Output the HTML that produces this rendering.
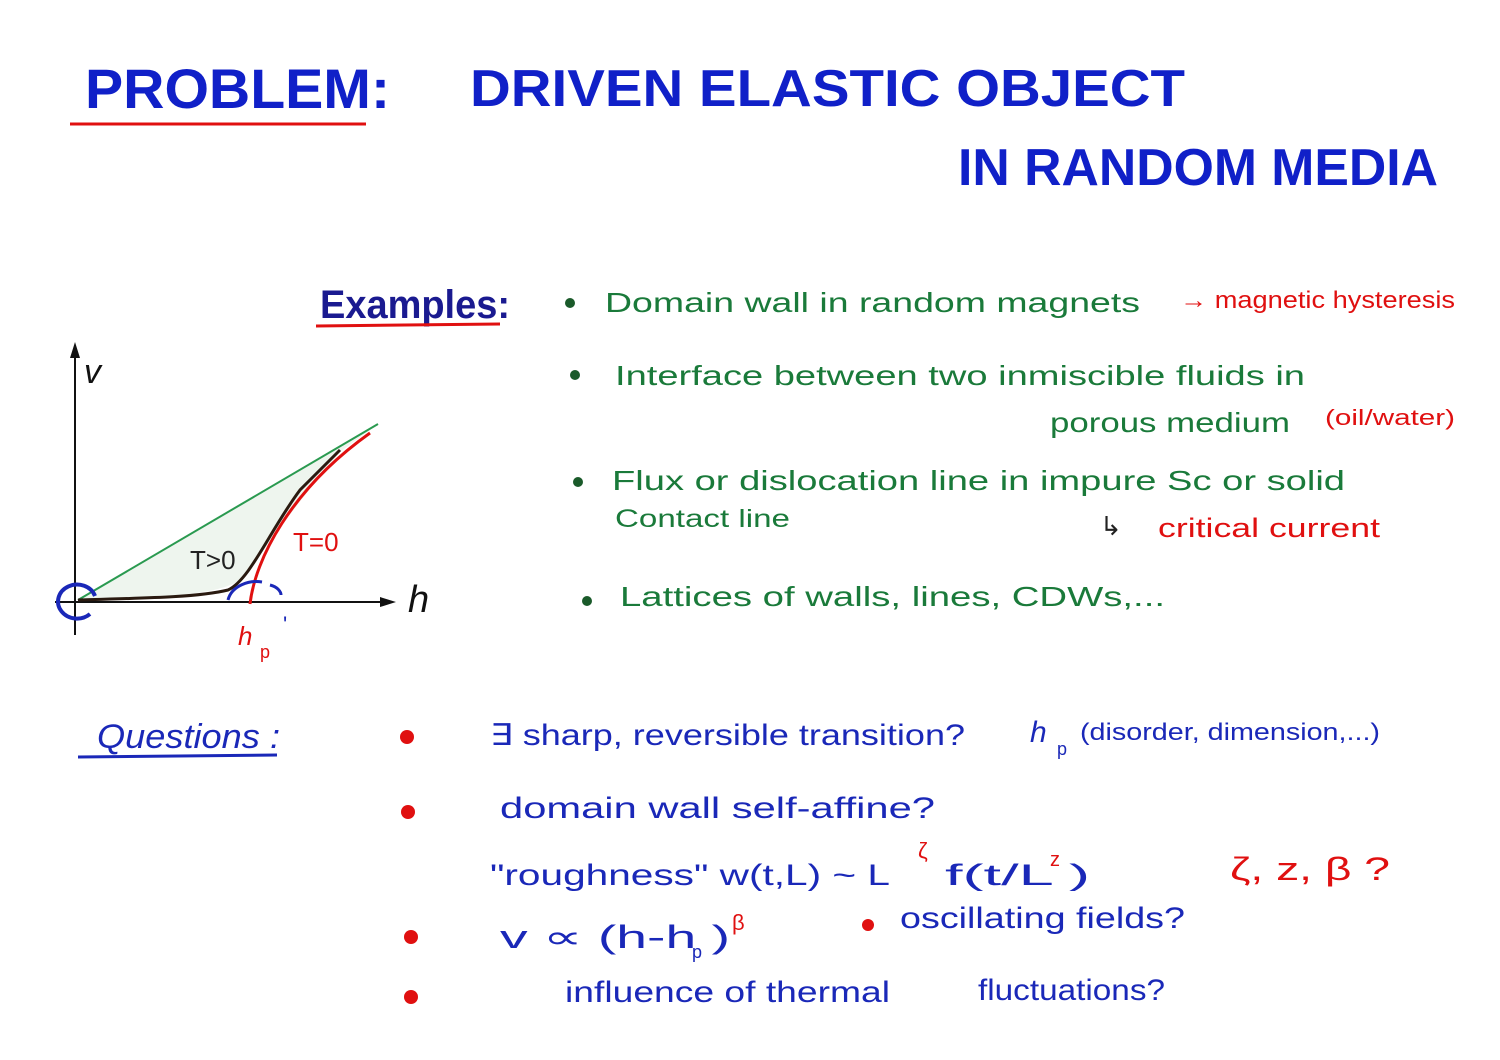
<!DOCTYPE html>
<html><head><meta charset="utf-8"><style>
body{margin:0;background:#fff}
svg{display:block}
text{font-family:"Liberation Sans",sans-serif}
.b{fill:#1020c8;font-weight:bold}
.g{fill:#1a7a3a}
.r{fill:#e01010}
.q{fill:#1a28b8}
</style></head><body>
<svg width="1500" height="1060" viewBox="0 0 1500 1060">
<text x="85" y="108" class="b" font-size="56" textLength="305" lengthAdjust="spacingAndGlyphs">PROBLEM:</text>
<line x1="70" y1="124" x2="366" y2="124" stroke="#e01010" stroke-width="3"/>
<text x="470" y="106" class="b" font-size="52" textLength="715" lengthAdjust="spacingAndGlyphs">DRIVEN  ELASTIC  OBJECT</text>
<text x="958" y="185" class="b" font-size="52" textLength="480" lengthAdjust="spacingAndGlyphs">IN  RANDOM  MEDIA</text>

<text x="320" y="318" font-size="40" font-weight="bold" fill="#1a1a90" textLength="190" lengthAdjust="spacingAndGlyphs">Examples:</text>
<line x1="316" y1="326" x2="500" y2="324" stroke="#e01010" stroke-width="3"/>

<circle cx="570" cy="303" r="5" fill="#1a5a2a"/>
<text x="605" y="312" class="g" font-size="28" textLength="535" lengthAdjust="spacingAndGlyphs">Domain  wall  in  random  magnets</text>
<text x="1180" y="308" class="r" font-size="24" textLength="275" lengthAdjust="spacingAndGlyphs">→ magnetic  hysteresis</text>

<circle cx="575" cy="375" r="5" fill="#1a5a2a"/>
<text x="615" y="385" class="g" font-size="28" textLength="690" lengthAdjust="spacingAndGlyphs">Interface  between  two  inmiscible  fluids  in</text>
<text x="1050" y="432" class="g" font-size="28" textLength="240" lengthAdjust="spacingAndGlyphs">porous  medium</text>
<text x="1325" y="425" class="r" font-size="22" textLength="130" lengthAdjust="spacingAndGlyphs">(oil/water)</text>

<circle cx="578" cy="482" r="5" fill="#1a5a2a"/>
<text x="612" y="490" class="g" font-size="28" textLength="733" lengthAdjust="spacingAndGlyphs">Flux  or  dislocation  line  in  impure  Sc  or  solid</text>
<text x="615" y="527" class="g" font-size="25" textLength="175" lengthAdjust="spacingAndGlyphs">Contact  line</text>
<text x="1100" y="535" font-size="26" fill="#222">↳</text>
<text x="1158" y="537" class="r" font-size="27" textLength="222" lengthAdjust="spacingAndGlyphs">critical  current</text>

<circle cx="587" cy="601" r="5" fill="#1a5a2a"/>
<text x="620" y="606" class="g" font-size="28" textLength="545" lengthAdjust="spacingAndGlyphs">Lattices  of  walls,  lines,  CDWs,...</text>

<!-- graph -->
<path d="M78,600 L378,424 L340,452 C300,500 270,540 250,570 C235,592 200,596 78,600Z" fill="#eef5ee"/>
<line x1="75" y1="635" x2="75" y2="345" stroke="#111" stroke-width="2"/>
<path d="M70,358 L75,342 L80,358Z" fill="#111"/>
<line x1="55" y1="602" x2="385" y2="602" stroke="#111" stroke-width="2"/>
<path d="M380,597 L396,602 L380,607Z" fill="#111"/>
<text x="84" y="383" font-size="34" fill="#111" font-style="italic">v</text>
<text x="408" y="612" font-size="38" fill="#111" font-style="italic">h</text>
<line x1="78" y1="600" x2="378" y2="424" stroke="#2a9a50" stroke-width="2"/>
<path d="M78,600 C150,598 200,597 228,590 C250,580 270,530 300,490 C320,470 335,455 340,450" fill="none" stroke="#2a1a10" stroke-width="3"/>
<path d="M250,604 C255,560 290,490 370,433" fill="none" stroke="#e01010" stroke-width="3"/>
<path d="M95,596 A19,17 0 1 0 90,614" fill="none" stroke="#1a28b8" stroke-width="4"/>
<path d="M228,600 C232,585 250,580 262,582 M270,585 C278,587 281,592 281,595" fill="none" stroke="#1a28b8" stroke-width="3"/>
<text x="190" y="569" font-size="26" fill="#222">T&gt;0</text>
<text x="293" y="551" font-size="26" class="r">T=0</text>
<text x="238" y="645" font-size="26" class="r" font-style="italic">h</text>
<text x="260" y="658" font-size="18" class="r">p</text>
<text x="283" y="632" font-size="22" fill="#1a28b8">'</text>

<!-- questions -->
<text x="97" y="748" class="q" font-size="34" font-style="italic" textLength="183" lengthAdjust="spacingAndGlyphs">Questions :</text>
<line x1="78" y1="757" x2="277" y2="755" stroke="#1a28b8" stroke-width="3"/>
<circle cx="407" cy="737" r="7" fill="#e01010"/>
<circle cx="408" cy="812" r="7" fill="#e01010"/>
<circle cx="411" cy="937" r="7" fill="#e01010"/>
<circle cx="411" cy="997" r="7" fill="#e01010"/>
<text x="490" y="745" class="q" font-size="30" textLength="475" lengthAdjust="spacingAndGlyphs">∃ sharp, reversible transition?</text>
<text x="1030" y="742" class="q" font-size="30" font-style="italic">h</text>
<text x="1057" y="755" class="q" font-size="18">p</text>
<text x="1080" y="740" class="q" font-size="24" textLength="300" lengthAdjust="spacingAndGlyphs">(disorder, dimension,...)</text>
<text x="500" y="818" class="q" font-size="30" textLength="435" lengthAdjust="spacingAndGlyphs">domain  wall  self-affine?</text>
<text x="490" y="885" class="q" font-size="30" textLength="400" lengthAdjust="spacingAndGlyphs">"roughness"  w(t,L) ~ L</text>
<text x="918" y="858" class="r" font-size="22">ζ</text>
<text x="945" y="885" class="q" font-size="30" textLength="145" lengthAdjust="spacingAndGlyphs">f(t/L  )</text>
<text x="1050" y="866" class="r" font-size="20">z</text>
<text x="1230" y="880" class="r" font-size="32" textLength="160" lengthAdjust="spacingAndGlyphs">ζ, z, β ?</text>
<text x="500" y="948" class="q" font-size="32" textLength="230" lengthAdjust="spacingAndGlyphs">v ∝ (h-h  )</text>
<text x="692" y="958" class="q" font-size="18">p</text>
<text x="732" y="930" class="r" font-size="22">β</text>
<circle cx="868" cy="925" r="6" fill="#e01010"/>
<text x="900" y="928" class="q" font-size="30" textLength="285" lengthAdjust="spacingAndGlyphs">oscillating  fields?</text>
<text x="565" y="1002" class="q" font-size="30" textLength="325" lengthAdjust="spacingAndGlyphs">influence  of  thermal</text>
<text x="978" y="1000" class="q" font-size="30" textLength="187" lengthAdjust="spacingAndGlyphs">fluctuations?</text>
</svg>
</body></html>
